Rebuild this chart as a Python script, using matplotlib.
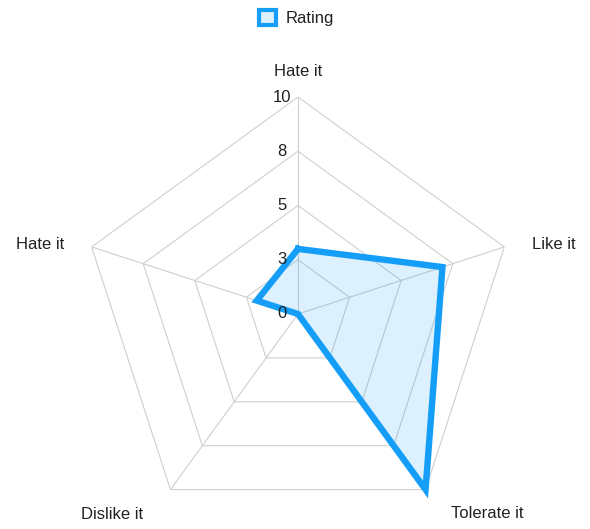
import numpy as np
import matplotlib.pyplot as plt
from matplotlib.patches import Patch

# Chart data
categories = ['Hate it', 'Like it', 'Tolerate it', 'Dislike it', 'Hate it']
ratings = [3, 7, 10, 0, 2]
ring_values = [2.5, 5, 7.5, 10]
tick_values = [0, 2.5, 5, 7.5, 10]
tick_labels = ['0', '3', '5', '8', '10']

line_color = '#149ef8'
fill_color = (20 / 255, 158 / 255, 248 / 255, 0.15)
grid_color = '#cfcfcf'
text_color = '#222222'

plt.rcParams['font.family'] = ['Liberation Sans', 'DejaVu Sans']

fig = plt.figure(figsize=(5.9, 5.29), dpi=100)
# polar axes placed so that the centre is at (298, 314) px and radius 217 px
W, H = 590, 529
cx, cy, rad = 298, 314, 217
ax = fig.add_axes([(cx - rad) / W, (H - cy - rad) / H, 2 * rad / W, 2 * rad / H],
                  projection='polar')
ax.set_theta_zero_location('N')
ax.set_theta_direction(-1)
ax.set_ylim(0, 10)
ax.grid(False)
ax.set_xticks([])
ax.set_yticks([])
ax.spines['polar'].set_visible(False)
ax.patch.set_visible(False)

n = len(categories)
angles = np.linspace(0, 2 * np.pi, n, endpoint=False)
closed = np.append(angles, angles[0])

# pentagon rings and spokes
for r in ring_values:
    ax.plot(closed, [r] * (n + 1), color=grid_color, lw=0.8, zorder=1)
for a in angles:
    ax.plot([a, a], [0, 10], color=grid_color, lw=0.8, zorder=1)

# data
vals = np.append(ratings, ratings[0])
ax.fill(closed, vals, color=fill_color, zorder=2, clip_on=False)
ax.plot(closed, vals, color=line_color, lw=4.6, solid_joinstyle='miter',
        zorder=3, clip_on=False)

# radial tick labels
for v, lab in zip(tick_values, tick_labels):
    ax.annotate(lab, xy=(0, v), xytext=(-16, 0), textcoords='offset pixels',
                ha='center', va='center', fontsize=12, color=text_color,
                zorder=4, annotation_clip=False)

# category labels
offsets = [(0, 26, 'center'), (28, 2, 'left'), (25, -24, 'left'),
           (-27, -25, 'right'), (-27, 2, 'right')]
for a, lab, (dx, dy, ha) in zip(angles, categories, offsets):
    ax.annotate(lab, xy=(a, 10), xytext=(dx, dy), textcoords='offset pixels',
                ha=ha, va='center', fontsize=12, color=text_color,
                annotation_clip=False)

handle = Patch(facecolor=fill_color, edgecolor=line_color, linewidth=3)
fig.legend([handle], ['Rating'], loc='upper center', bbox_to_anchor=(0.503, 1.01),
           frameon=False, fontsize=12, handlelength=1.0, handleheight=1.0,
           handletextpad=0.6, labelcolor=text_color)

fig.savefig('out.png', dpi=100)
